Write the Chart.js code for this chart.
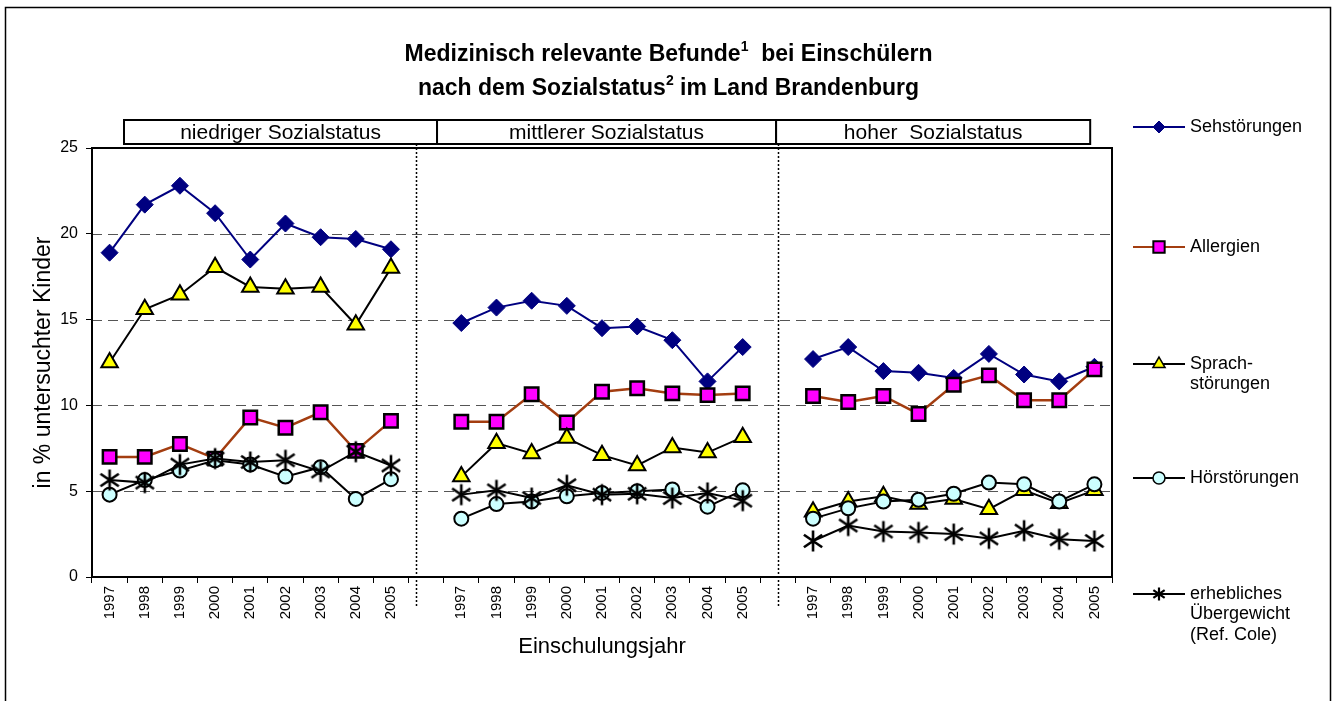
<!DOCTYPE html>
<html>
<head>
<meta charset="utf-8">
<script src="https://cdn.jsdelivr.net/npm/chart.js@4/dist/chart.umd.min.js"></script>
<style>
  html, body { margin: 0; padding: 0; background: #fff; }
</style>
</head>
<body>
<canvas id="chart" width="1337" height="701"></canvas>
<script>
/* ===== DATA ===== */
const years = ["1997", "1998", "1999", "2000", "2001", "2002", "2003", "2004", "2005"];
const groups = ["niedriger Sozialstatus", "mittlerer Sozialstatus", "hoher  Sozialstatus"];
const yTicks = [0, 5, 10, 15, 20, 25];

// one inner array per Sozialstatus group (niedrig, mittel, hoch)
const sehstoerungen = [
  [18.9, 21.7, 22.8, 21.2, 18.5, 20.6, 19.8, 19.7, 19.1],
  [14.8, 15.7, 16.1, 15.8, 14.5, 14.6, 13.8, 11.4, 13.4],
  [12.7, 13.4, 12.0, 11.9, 11.6, 13.0, 11.8, 11.4, 12.25]
];
const allergien = [
  [7.0, 7.0, 7.75, 6.9, 9.3, 8.7, 9.6, 7.35, 9.1],
  [9.05, 9.05, 10.65, 9.0, 10.8, 11.0, 10.7, 10.6, 10.7],
  [10.55, 10.2, 10.55, 9.5, 11.2, 11.75, 10.3, 10.3, 12.1]
];
const sprachstoerungen = [
  [12.5, 15.6, 16.45, 18.05, 16.9, 16.8, 16.9, 14.7, 18.0],
  [5.85, 7.8, 7.2, 8.1, 7.1, 6.5, 7.55, 7.25, 8.15],
  [3.8, 4.4, 4.7, 4.25, 4.55, 3.95, 5.05, 4.3, 5.05]
];
const hoerstoerungen = [
  [4.8, 5.65, 6.2, 6.8, 6.55, 5.85, 6.4, 4.55, 5.7],
  [3.4, 4.25, 4.4, 4.7, 4.9, 5.0, 5.1, 4.1, 5.05],
  [3.4, 4.0, 4.4, 4.5, 4.85, 5.5, 5.4, 4.4, 5.4]
];
const uebergewicht = [
  [5.65, 5.5, 6.55, 6.9, 6.7, 6.8, 6.15, 7.3, 6.5],
  [4.8, 5.05, 4.6, 5.35, 4.8, 4.85, 4.6, 4.9, 4.45],
  [2.1, 3.0, 2.65, 2.6, 2.5, 2.25, 2.7, 2.2, 2.1]
];

/* ===== helpers ===== */
const FONT = '"Liberation Sans", Arial, sans-serif';

// three groups of years with an empty slot between them
const labels = [...years, "", ...years, "", ...years];
function joinGroups(series) {
  return [...series[0], null, ...series[1], null, ...series[2]];
}

// Excel-like asterisk marker (X plus vertical stroke)
function makeAsterisk(size, lw) {
  const c = document.createElement("canvas");
  c.width = size; c.height = size;
  const g = c.getContext("2d");
  const m = size / 2, r = size / 2 - 1.5;
  g.strokeStyle = "#000";
  g.lineWidth = lw;
  g.beginPath();
  g.moveTo(m, m - r); g.lineTo(m, m + r);
  g.moveTo(m - r * 0.87, m - r * 0.6); g.lineTo(m + r * 0.87, m + r * 0.6);
  g.moveTo(m - r * 0.87, m + r * 0.6); g.lineTo(m + r * 0.87, m - r * 0.6);
  g.stroke();
  return c;
}
const starBig = makeAsterisk(24, 2.6);
const starSmall = makeAsterisk(16, 2.2);

/* ===== decorations ===== */
const decorations = {
  id: "decorations",
  beforeDatasetsDraw(chart) {
    const { ctx, chartArea: a, scales: { y } } = chart;
    ctx.save();
    // dashed grid lines
    ctx.strokeStyle = "#555";
    ctx.lineWidth = 1;
    ctx.setLineDash([10, 6]);
    [5, 10, 15, 20].forEach(v => {
      const py = Math.round(y.getPixelForValue(v)) + 0.5;
      ctx.beginPath();
      ctx.moveTo(a.left, py);
      ctx.lineTo(a.right, py);
      ctx.stroke();
    });
    ctx.setLineDash([]);
    // plot frame
    ctx.strokeStyle = "#000";
    ctx.lineWidth = 2;
    ctx.strokeRect(a.left, a.top, a.right - a.left, a.bottom - a.top);
    ctx.restore();
  },
  afterDraw(chart) {
    const { ctx, chartArea: a, scales: { x } } = chart;
    ctx.save();

    // outer frame
    ctx.strokeStyle = "#000";
    ctx.lineWidth = 1.5;
    ctx.strokeRect(5.5, 7.5, 1325, 710);

    // dotted separators between the groups
    ctx.lineWidth = 1.5;
    ctx.setLineDash([2, 2]);
    [8.7, 19].forEach(v => {
      const px = Math.round(x.getPixelForValue(v)) + 0.5;
      ctx.beginPath();
      ctx.moveTo(px, a.top - 20);
      ctx.lineTo(px, a.bottom + 30);
      ctx.stroke();
    });
    ctx.setLineDash([]);

    // group header boxes
    const edges = [0.41, 9.31, 18.95, 27.88];
    const top = a.top - 28, h = 24;
    ctx.lineWidth = 2;
    ctx.font = "21px " + FONT;
    ctx.textAlign = "center";
    ctx.textBaseline = "middle";
    groups.forEach((g, i) => {
      const l = x.getPixelForValue(edges[i]);
      const r = x.getPixelForValue(edges[i + 1]);
      ctx.fillStyle = "#fff";
      ctx.fillRect(l, top, r - l, h);
      ctx.strokeRect(l, top, r - l, h);
      ctx.fillStyle = "#000";
      ctx.fillText(g, (l + r) / 2, top + h / 2 + 1);
    });

    // title with superscripts
    const cx = chart.width / 2;
    drawRich(ctx, [["Medizinisch relevante Befunde", 0], ["1", 1], ["  bei Einschülern", 0]], cx, 55);
    drawRich(ctx, [["nach dem Sozialstatus", 0], ["2", 1], [" im Land Brandenburg", 0]], cx, 89);

    // legend
    const lx = a.right + 21, lw = 52;
    const entries = [
      { ds: 0, y: 127, lines: ["Sehstörungen"] },
      { ds: 1, y: 247, lines: ["Allergien"] },
      { ds: 2, y: 364, lines: ["Sprach-", "störungen"] },
      { ds: 3, y: 478, lines: ["Hörstörungen"] },
      { ds: 4, y: 594, lines: ["erhebliches", "Übergewicht", "(Ref. Cole)"] }
    ];
    const legendMarks = [
      { pointStyle: "rectRot", radius: 6, borderWidth: 1 },
      { pointStyle: "rect", radius: 8, borderWidth: 2 },
      { pointStyle: "triangle", radius: 7, borderWidth: 1.5 },
      { pointStyle: "circle", radius: 6, borderWidth: 1.5 },
      { pointStyle: starSmall, radius: 6, borderWidth: 0 }
    ];
    entries.forEach(e => {
      const ds = chart.data.datasets[e.ds];
      ctx.strokeStyle = ds.borderColor;
      ctx.lineWidth = 2;
      ctx.beginPath();
      ctx.moveTo(lx, e.y);
      ctx.lineTo(lx + lw, e.y);
      ctx.stroke();
      ctx.fillStyle = ds.pointBackgroundColor;
      ctx.strokeStyle = ds.pointBorderColor;
      const mk = Object.assign({ rotation: 0 }, legendMarks[e.ds]);
      ctx.lineWidth = mk.borderWidth;
      Chart.helpers.drawPoint(ctx, mk, lx + lw / 2, e.y);
      ctx.fillStyle = "#000";
      ctx.font = "18px " + FONT;
      ctx.textAlign = "left";
      ctx.textBaseline = "middle";
      e.lines.forEach((t, i) => ctx.fillText(t, lx + lw + 5, e.y + i * 20.5));
    });

    ctx.restore();
  }
};

function drawRich(ctx, parts, cx, y) {
  const big = "bold 23px " + FONT, small = "bold 14px " + FONT;
  let total = 0;
  parts.forEach(p => { ctx.font = p[1] ? small : big; total += ctx.measureText(p[0]).width; });
  let px = cx - total / 2;
  ctx.textAlign = "left";
  ctx.textBaseline = "middle";
  ctx.fillStyle = "#000";
  parts.forEach(p => {
    ctx.font = p[1] ? small : big;
    ctx.fillText(p[0], px, p[1] ? y - 8 : y);
    px += ctx.measureText(p[0]).width;
  });
}

/* ===== LINE CHART ===== */
const ctx = document.getElementById("chart");

new Chart(ctx, {
  type: "line",
  data: {
    labels: labels,
    datasets: [{
      label: "Sehstörungen",
      data: joinGroups(sehstoerungen),
      borderColor: "#000080",
      borderWidth: 2,
      pointStyle: "rectRot",
      pointRadius: 8.5,
      pointBackgroundColor: "#000080",
      pointBorderColor: "#000080",
      pointBorderWidth: 1,
      order: 4
    }, {
      label: "Allergien",
      data: joinGroups(allergien),
      borderColor: "#A33D10",
      borderWidth: 2.5,
      pointStyle: "rect",
      pointRadius: 9.5,
      pointBackgroundColor: "#FF00FF",
      pointBorderColor: "#000",
      pointBorderWidth: 2.5,
      order: 3
    }, {
      label: "Sprachstörungen",
      data: joinGroups(sprachstoerungen),
      borderColor: "#000",
      borderWidth: 2,
      pointStyle: "triangle",
      pointRadius: 9.5,
      pointBackgroundColor: "#FFFF00",
      pointBorderColor: "#000",
      pointBorderWidth: 2,
      order: 2
    }, {
      label: "Hörstörungen",
      data: joinGroups(hoerstoerungen),
      borderColor: "#000",
      borderWidth: 2,
      pointStyle: "circle",
      pointRadius: 7,
      pointBackgroundColor: "#CCFFFF",
      pointBorderColor: "#000",
      pointBorderWidth: 2,
      order: 1
    }, {
      label: "erhebliches Übergewicht (Ref. Cole)",
      data: joinGroups(uebergewicht),
      borderColor: "#000",
      borderWidth: 2,
      pointStyle: starBig,
      pointRadius: 10,
      pointBackgroundColor: "#000",
      pointBorderColor: "#000",
      order: 0
    }]
  },
  options: {
    responsive: false,
    devicePixelRatio: 1,
    animation: false,
    spanGaps: false,
    layout: { padding: { top: 148, right: 225, left: 26, bottom: 37 } },
    plugins: {
      legend: { display: false },
      tooltip: { enabled: false }
    },
    scales: {
      x: {
        offset: true,
        grid: { offset: true, drawOnChartArea: false, tickLength: 6, color: "#000", lineWidth: 1 },
        border: { color: "#000", width: 2 },
        ticks: {
          autoSkip: false, minRotation: 90, maxRotation: 90, padding: 3,
          color: "#000", font: { family: FONT, size: 15 }
        },
        title: { display: true, text: "Einschulungsjahr", color: "#000", font: { family: FONT, size: 22 } },
        afterFit: s => { s.height = 87; }
      },
      y: {
        min: 0,
        max: 25,
        afterBuildTicks: s => { s.ticks = yTicks.map(v => ({ value: v })); },
        grid: { drawOnChartArea: false, tickLength: 6, color: "#000", lineWidth: 1 },
        border: { color: "#000", width: 2 },
        ticks: { padding: 8, color: "#000", font: { family: FONT, size: 16 } },
        title: { display: true, text: "in % untersuchter Kinder", color: "#000", font: { family: FONT, size: 23 } },
        afterFit: s => { s.width = 66; }
      }
    }
  },
  plugins: [decorations]
});
</script>
</body>
</html>
